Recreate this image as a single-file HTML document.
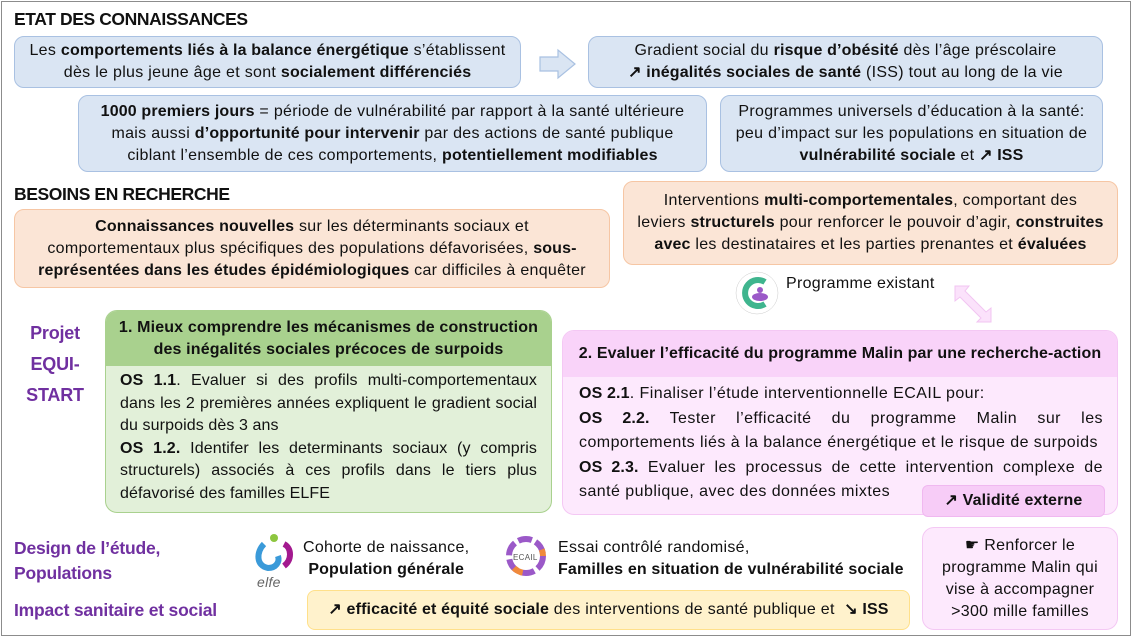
<!DOCTYPE html>
<html><head><meta charset="utf-8"><style>
*{box-sizing:border-box;margin:0;padding:0}
body{width:1133px;height:638px;background:#fff;font-family:"Liberation Sans",sans-serif;font-size:16px;letter-spacing:0.3px;color:#111;position:relative;overflow:hidden}
.frame{position:absolute;left:1px;top:1px;width:1130px;height:635px;border:1.5px solid #8c8c8c}
.a{position:absolute}
.box{position:absolute;display:flex;align-items:center;justify-content:center;text-align:center;line-height:22px;border-radius:10px}
.blue{background:#dae5f3;border:1.5px solid #a9c1e2}
.or{background:#fbe5d6;border:1.5px solid #f6c6a4}
.h{font-weight:bold;font-size:17.5px;letter-spacing:-0.4px}
.p{color:#7030a0;font-weight:bold;font-size:18px;letter-spacing:-0.2px}
b{font-weight:bold;letter-spacing:0.15px}
.j{text-align:justify;line-height:22.5px}
</style></head><body>
<div class="frame"></div>
<div class="a h" style="left:14px;top:9px">ETAT DES CONNAISSANCES</div>
<div class="box blue" style="left:14px;top:36px;width:507px;height:52px"><div>Les <b>comportements liés à la balance énergétique</b> s’établissent<br>dès le plus jeune âge et sont <b>socialement différenciés</b></div></div>
<svg class="a" style="left:538px;top:48px" width="40" height="32"><polygon points="2,9 20,9 20,2 37,16 20,30 20,23 2,23" fill="#dae5f3" stroke="#a9c1e2" stroke-width="1.2"/></svg>
<div class="box blue" style="left:588px;top:36px;width:515px;height:52px"><div>Gradient social du <b>risque d’obésité</b> dès l’âge préscolaire<br><b>↗ inégalités sociales de santé</b> (ISS) tout au long de la vie</div></div>
<div class="box blue" style="left:78px;top:95px;width:629px;height:77px"><div><b>1000 premiers jours</b> = période de vulnérabilité par rapport à la santé ultérieure<br>mais aussi <b>d’opportunité pour intervenir</b> par des actions de santé publique<br>ciblant l’ensemble de ces comportements, <b>potentiellement modifiables</b></div></div>
<div class="box blue" style="left:720px;top:95px;width:383px;height:77px"><div>Programmes universels d’éducation à la santé:<br>peu d’impact sur les populations en situation de<br><b>vulnérabilité sociale</b> et <b>↗ ISS</b></div></div>
<div class="a h" style="left:14px;top:184px">BESOINS EN RECHERCHE</div>
<div class="box or" style="left:14px;top:209px;width:596px;height:79px"><div><b>Connaissances nouvelles</b> sur les déterminants sociaux et<br>comportementaux plus spécifiques des populations défavorisées, <b>sous-<br>représentées dans les études épidémiologiques</b> car difficiles à enquêter</div></div>
<div class="box or" style="left:623px;top:181px;width:495px;height:84px"><div>Interventions <b>multi-comportementales</b>, comportant des<br>leviers <b>structurels</b> pour renforcer le pouvoir d’agir, <b>construites<br>avec</b> les destinataires et les parties prenantes et <b>évaluées</b></div></div>
<svg class="a" style="left:733px;top:270px" width="48" height="46"><circle cx="24" cy="23" r="21" fill="#fff" stroke="#ccc" stroke-width="0.5"/><path d="M32 12 A13 13 0 1 0 32 34" fill="none" stroke="#3fb58e" stroke-width="6"/><ellipse cx="27" cy="27" rx="8" ry="4" fill="#9b59c8"/><circle cx="27" cy="20" r="3" fill="#9b59c8"/></svg>
<div class="a" style="left:786px;top:275px">Programme existant</div>
<svg class="a" style="left:952px;top:283px" width="42" height="42"><polygon points="3,3 17,3 13,8 34,29 39,25 39,39 25,39 29,35 8,14 3,18" fill="#fbe2fb" stroke="#f2c4f2" stroke-width="1"/></svg>
<div class="a p" style="left:24px;top:318px;line-height:31px;text-align:center;width:62px">Projet<br>EQUI-<br>START</div>
<div class="a" style="left:105px;top:310px;width:447px;height:203px;background:#e2f0d9;border:1.5px solid #a9d18e;border-radius:12px;overflow:hidden">
<div style="background:#a9d18e;height:55px;display:flex;align-items:center;justify-content:center;text-align:center;font-weight:bold;line-height:22px;letter-spacing:0.15px">1. Mieux comprendre les mécanismes de construction<br>des inégalités sociales précoces de surpoids</div>
<div class="j" style="padding:4px 14px 0 14px;letter-spacing:0.1px"><b>OS 1.1</b>. Evaluer si des profils multi-comportementaux dans les 2 premières années expliquent le gradient social du surpoids dès 3 ans<br><b>OS 1.2.</b> Identifer les determinants sociaux (y compris structurels) associés à ces profils dans le tiers plus défavorisé des familles ELFE</div></div>
<div class="a" style="left:562px;top:330px;width:556px;height:185px;background:#fde9fd;border:1.5px solid #f4c8f4;border-radius:12px;overflow:hidden">
<div style="background:#f9d3f9;height:46px;display:flex;align-items:center;justify-content:center;font-weight:bold;letter-spacing:0.1px">2. Evaluer l’efficacité du programme Malin par une recherche-action</div>
<div class="j" style="padding:5px 14px 0 16px;line-height:24.5px;letter-spacing:0.45px"><b>OS 2.1</b>. Finaliser l’étude interventionnelle ECAIL pour:<br><b>OS 2.2.</b> Tester l’efficacité du programme Malin sur les comportements&nbsp;liés à la balance énergétique et le risque de surpoids<br><b>OS 2.3.</b> Evaluer les processus de cette intervention complexe de santé publique, avec des données mixtes</div></div>
<div class="box" style="left:922px;top:485px;width:183px;height:32px;background:#f7ccf7;border:1.5px solid #f0b8f0;border-radius:6px"><b>↗ Validité externe</b></div>
<div class="a p" style="left:14px;top:536px;line-height:25px;font-size:17.5px">Design de l’étude,<br>Populations</div>
<div class="a p" style="left:14px;top:600px;font-size:17.5px">Impact sanitaire et social</div>
<svg class="a" style="left:254px;top:532px" width="44" height="70"><path d="M10 12 C2 20 2 34 14 36 C22 36 26 30 24 24" fill="none" stroke="#3a9ad9" stroke-width="6"/><circle cx="20" cy="6" r="4" fill="#8dc63f"/><path d="M30 12 C38 16 38 28 30 34" fill="none" stroke="#a3198f" stroke-width="6"/><text x="3" y="55" font-family="Liberation Sans" font-size="14" font-style="italic" fill="#666">elfe</text></svg>
<div class="a" style="left:303px;top:537px;line-height:22px;text-align:center">Cohorte de naissance,<br><b>Population générale</b></div>
<svg class="a" style="left:502px;top:532px" width="48" height="48"><circle cx="24" cy="24" r="17" fill="none" stroke="#9b59c8" stroke-width="6" stroke-dasharray="14 4"/><circle cx="24" cy="24" r="17" fill="none" stroke="#f08a3c" stroke-width="6" stroke-dasharray="10 60" stroke-dashoffset="-30"/><text x="11" y="28" font-family="Liberation Sans" font-size="8" fill="#555">ECAIL</text></svg>
<div class="a" style="left:558px;top:537px;line-height:22px">Essai contrôlé randomisé,<br><b>Familles en situation de vulnérabilité sociale</b></div>
<div class="box" style="left:307px;top:590px;width:603px;height:40px;background:#fff2cc;border:1.5px solid #ffe08a;border-radius:8px"><div><b>↗ efficacité et équité sociale</b> des interventions de santé publique et&nbsp; <b>↘ ISS</b></div></div>
<div class="box" style="left:922px;top:527px;width:196px;height:103px;background:#fde9fd;border:1.5px solid #f4c8f4;border-radius:12px"><div>☛ Renforcer le<br>programme Malin qui<br>vise à accompagner<br>&gt;300 mille familles</div></div>
</body></html>
